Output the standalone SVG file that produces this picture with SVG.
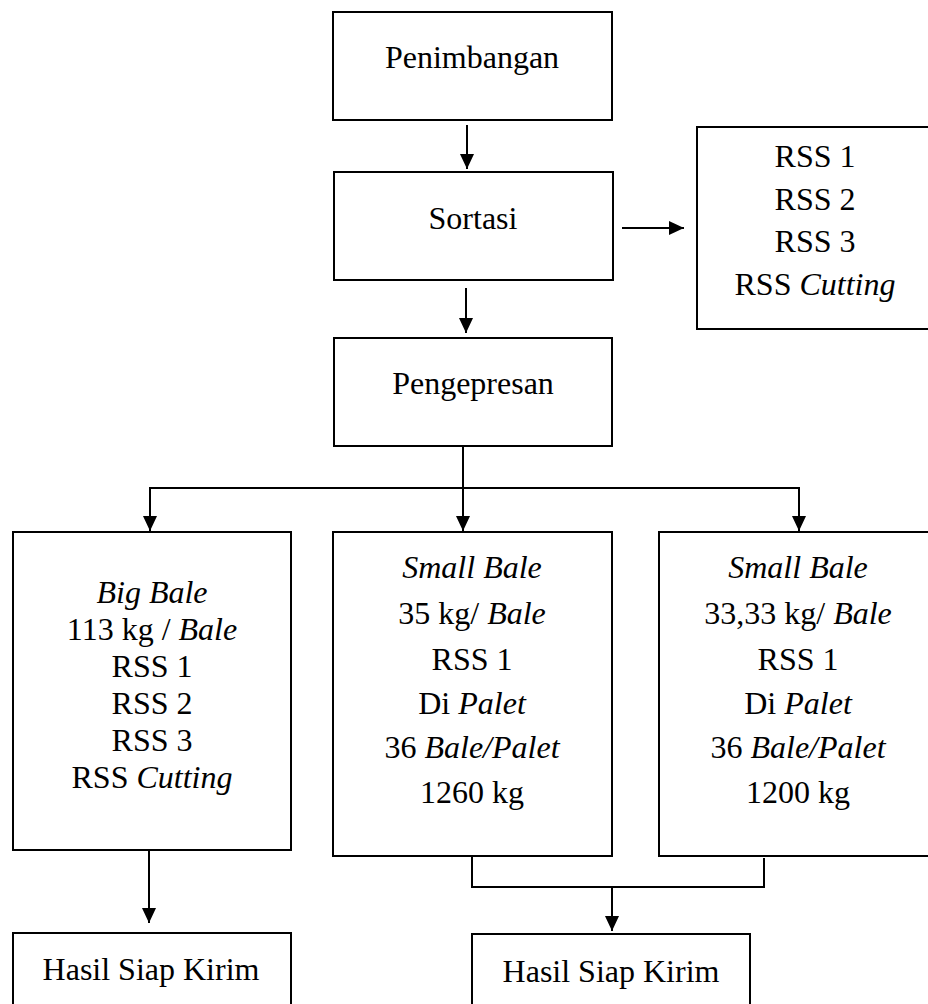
<svg xmlns="http://www.w3.org/2000/svg" width="928" height="1004" viewBox="0 0 928 1004">
<style>
.box{fill:#fff;stroke:#000;stroke-width:2}
.t{font-family:"Liberation Serif","Times New Roman",serif;font-size:32px;fill:#000;text-anchor:middle}
.i{font-style:italic}
.c{fill:none;stroke:#000;stroke-width:2}
</style>
<defs>
<marker id="ah" markerUnits="userSpaceOnUse" markerWidth="16" markerHeight="16" refX="15" refY="7" orient="auto" viewBox="0 0 16 14">
<path d="M0,0 L15,7 L0,14 Z" fill="#000"/>
</marker>
</defs>
<rect x="0" y="0" width="928" height="1004" fill="#fff"/>
<g id="connectors">
<line class="c" x1="467" y1="125" x2="467" y2="169" marker-end="url(#ah)"/>
<line class="c" x1="466" y1="288" x2="466" y2="333" marker-end="url(#ah)"/>
<line class="c" x1="622" y1="228" x2="684" y2="228" marker-end="url(#ah)"/>
<line class="c" x1="463" y1="446" x2="463" y2="531" marker-end="url(#ah)"/>
<polyline class="c" points="150,531 150,488 799,488 799,531" marker-start="none" marker-end="url(#ah)"/>
<line class="c" x1="150" y1="488" x2="150" y2="531" marker-end="url(#ah)"/>
<line class="c" x1="149" y1="850" x2="149" y2="923" marker-end="url(#ah)"/>
<polyline class="c" points="472,856 472,887 764,887 764,858"/>
<line class="c" x1="612" y1="887" x2="612" y2="931" marker-end="url(#ah)"/>
</g>
<g id="penimbangan">
<rect class="box" x="333" y="12" width="279" height="108"/>
<text class="t" x="472" y="68">Penimbangan</text>
</g>
<g id="sortasi">
<rect class="box" x="334" y="172" width="279" height="108"/>
<text class="t" x="473" y="229">Sortasi</text>
</g>
<g id="rss">
<rect class="box" x="697" y="127" width="240" height="202"/>
<text class="t" x="815" y="167">RSS 1</text>
<text class="t" x="815" y="210">RSS 2</text>
<text class="t" x="815" y="252">RSS 3</text>
<text class="t" x="815" y="295">RSS <tspan class="i">Cutting</tspan></text>
</g>
<g id="pengepresan">
<rect class="box" x="334" y="338" width="278" height="108"/>
<text class="t" x="473" y="394">Pengepresan</text>
</g>
<g id="bigbale">
<rect class="box" x="13" y="532" width="278" height="318"/>
<text class="t" x="152" y="603"><tspan class="i">Big Bale</tspan></text>
<text class="t" x="152" y="640">113 kg / <tspan class="i">Bale</tspan></text>
<text class="t" x="152" y="677">RSS 1</text>
<text class="t" x="152" y="714">RSS 2</text>
<text class="t" x="152" y="751">RSS 3</text>
<text class="t" x="152" y="788">RSS <tspan class="i">Cutting</tspan></text>
</g>
<g id="smallbale35">
<rect class="box" x="333" y="532" width="279" height="324"/>
<text class="t" x="472" y="578"><tspan class="i">Small Bale</tspan></text>
<text class="t" x="472" y="624">35 kg/ <tspan class="i">Bale</tspan></text>
<text class="t" x="472" y="670">RSS 1</text>
<text class="t" x="472" y="714">Di <tspan class="i">Palet</tspan></text>
<text class="t" x="472" y="758">36 <tspan class="i">Bale/Palet</tspan></text>
<text class="t" x="472" y="803">1260 kg</text>
</g>
<g id="smallbale33">
<rect class="box" x="659" y="532" width="280" height="324"/>
<text class="t" x="798" y="578"><tspan class="i">Small Bale</tspan></text>
<text class="t" x="798" y="624">33,33 kg/ <tspan class="i">Bale</tspan></text>
<text class="t" x="798" y="670">RSS 1</text>
<text class="t" x="798" y="714">Di <tspan class="i">Palet</tspan></text>
<text class="t" x="798" y="758">36 <tspan class="i">Bale/Palet</tspan></text>
<text class="t" x="798" y="803">1200 kg</text>
</g>
<g id="hasil1">
<rect class="box" x="13" y="933" width="278" height="90"/>
<text class="t" x="151" y="980">Hasil Siap Kirim</text>
</g>
<g id="hasil2">
<rect class="box" x="472" y="934" width="278" height="90"/>
<text class="t" x="611" y="982">Hasil Siap Kirim</text>
</g>
</svg>
